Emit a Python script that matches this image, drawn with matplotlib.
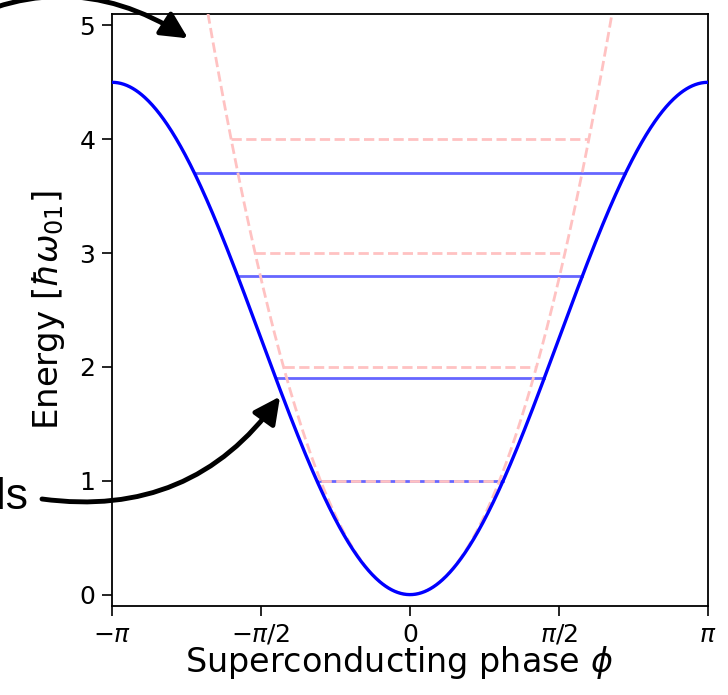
import numpy as np
import matplotlib
matplotlib.use('Agg')
import matplotlib.pyplot as plt

# ---- data ----
well_depth = 4.5                      # max of cosine potential (at phi = +/- pi)
harmonic_levels = [1, 2, 3, 4]        # equally spaced (harmonic) levels
transmon_levels = [1.0, 1.9, 2.8, 3.7]  # anharmonic (transmon) levels
xtick_vals = [-np.pi, -np.pi / 2, 0, np.pi / 2, np.pi]
xtick_labels = [r'$-\pi$', r'$-\pi/2$', '0', r'$\pi/2$', r'$\pi$']
ytick_vals = [0, 1, 2, 3, 4, 5]

fig = plt.figure(figsize=(7.28, 6.95), dpi=100)
ax = fig.add_axes([112 / 728, 89 / 695, 596 / 728, 592 / 695])

phi = np.linspace(-np.pi, np.pi, 800)
U = well_depth / 2 * (1 - np.cos(phi))
H = well_depth / 4 * phi ** 2

pink = '#ffc2c2'
ax.plot(phi, U, color='blue', lw=2.4, zorder=5)
for E in transmon_levels:
    p = np.arccos(1 - 2 * E / well_depth)
    ax.plot([-p, p], [E, E], color='blue', alpha=0.6, lw=2, zorder=2)
ax.plot(phi, H, color=pink, ls='--', lw=2, zorder=4)
for E in harmonic_levels:
    p = np.sqrt(4 * E / well_depth)
    ax.plot([-p, p], [E, E], color=pink, ls='--', lw=2, zorder=4)

ax.set_xlim(-np.pi, np.pi)
ax.set_ylim(-0.1, 5.1)
ax.set_xticks(xtick_vals)
ax.set_xticklabels(xtick_labels)
ax.set_yticks(ytick_vals)
ax.tick_params(labelsize=18, length=7, width=1.2, pad=5)
for s in ax.spines.values():
    s.set_linewidth(1.3)
ax.set_xlabel(r'Superconducting phase $\phi$', fontsize=24, labelpad=4)
ax.xaxis.set_label_coords(0.482, -0.065)
ax.set_ylabel(r'Energy [$\hbar\omega_{01}$]', fontsize=24.5, labelpad=9)

# ---- annotation arrows (partly outside the cropped figure) ----
aprops = dict(arrowstyle='-|>,head_length=0.8,head_width=0.4', lw=3.5,
              color='black', mutation_scale=20, shrinkA=0, shrinkB=0)
ax.annotate('', xy=(-2.34, 4.886), xycoords='data',
            xytext=(-68, 657), textcoords='figure pixels',
            arrowprops=dict(aprops, connectionstyle='arc3,rad=-0.32'),
            annotation_clip=False)
ax.annotate('', xy=(-1.37, 1.74), xycoords='data',
            xytext=(42, 196), textcoords='figure pixels',
            arrowprops=dict(aprops, connectionstyle='arc3,rad=0.3'),
            annotation_clip=False)
fig.text(28 / 728, 186 / 695, 'Energy levels', ha='right', va='baseline',
         fontsize=32, family='Liberation Sans')

fig.savefig('out.png', dpi=100)
